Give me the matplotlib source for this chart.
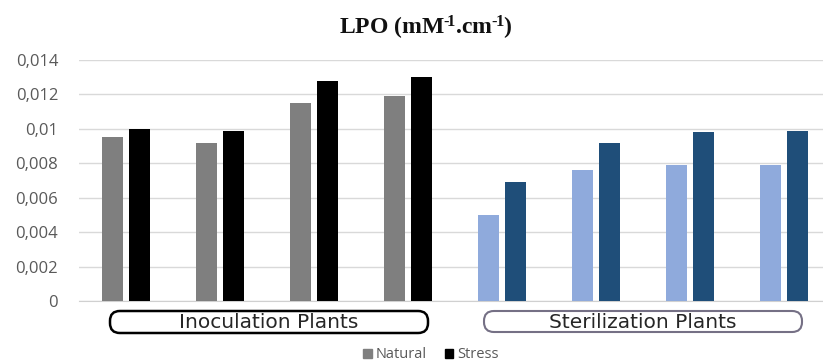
import numpy as np
import matplotlib.pyplot as plt
from matplotlib.patches import FancyBboxPatch, Patch

plt.rcParams['mathtext.fontset'] = 'custom'
plt.rcParams['mathtext.rm'] = 'Liberation Serif:bold'
plt.rcParams['mathtext.it'] = 'Liberation Serif:bold'

# values
natural = [0.00955, 0.0092, 0.0115, 0.0119, 0.0050, 0.0076, 0.0079, 0.0079]
stress = [0.0100, 0.0099, 0.0128, 0.0130, 0.0069, 0.0092, 0.0098, 0.0099]
groups = ['Inoculation Plants', 'Sterilization Plants']
yticks = [0, 0.002, 0.004, 0.006, 0.008, 0.01, 0.012, 0.014]
ytick_labels = ['0', '0,002', '0,004', '0,006', '0,008', '0,01', '0,012', '0,014']

nat_colors = ['#7f7f7f'] * 4 + ['#8faadc'] * 4
str_colors = ['#000000'] * 4 + ['#1f4e79'] * 4

W, H = 823, 362
fig = plt.figure(figsize=(W / 100, H / 100), dpi=100)
ax = fig.add_axes([79 / W, (H - 301) / H, (W - 79) / W, 241 / H])

x = np.arange(len(natural))
ax.bar(x - 0.145, natural, 0.22, color=nat_colors, zorder=3)
ax.bar(x + 0.145, stress, 0.22, color=str_colors, zorder=3)

ax.set_xlim(-0.5, -0.5 + (W - 79) / 94)
ax.set_ylim(0, 0.014)
ax.set_yticks(yticks)
ax.set_yticklabels(ytick_labels, color='#595959', fontsize=12, family='Open Sans')
ax.set_xticks([])
ax.tick_params(axis='y', length=0, pad=15)
ax.grid(axis='y', color='#d9d9d9', lw=1, zorder=0)
for s in ['top', 'right', 'left']:
    ax.spines[s].set_visible(False)
ax.spines['bottom'].set_color('#d0d0d0')

# title
fig.text(426 / W, 1 - 28 / H, 'LPO (mM$^{\u2010\\!1}$.cm$^{\u2010\\!1}$)', ha='center', va='center',
         fontsize=17, fontweight='bold', family='Liberation Serif', color='#111111')

# group boxes under the axis
boxes = [(110, 311, 318, 22, '#000000', 1.8), (484, 311, 318, 21, '#757085', 1.5)]
for (bx, by, bw, bh, ec, lw), name in zip(boxes, groups):
    p = FancyBboxPatch((bx / W, 1 - (by + bh) / H), bw / W, bh / H,
                       boxstyle='round,pad=0,rounding_size=0.012', transform=fig.transFigure,
                       fc='white', ec=ec, lw=lw, mutation_aspect=W / H)
    fig.add_artist(p)
    fig.text((bx + bw / 2) / W, 1 - (by + bh / 2 + 0.5) / H, name, ha='center', va='center',
             fontsize=14.5, family='DejaVu Sans', color='#262626')

handles = [Patch(color='#7f7f7f', label='Natural'), Patch(color='#000000', label='Stress')]
fig.legend(handles=handles, loc='center', bbox_to_anchor=(431 / W, 1 - 355 / H), ncol=2,
           frameon=False, handlelength=0.6, handleheight=0.6, handletextpad=0.3,
           columnspacing=1.2, labelcolor='#595959', prop={'family': 'Open Sans', 'size': 10.5})

fig.savefig('out.png', dpi=100)
